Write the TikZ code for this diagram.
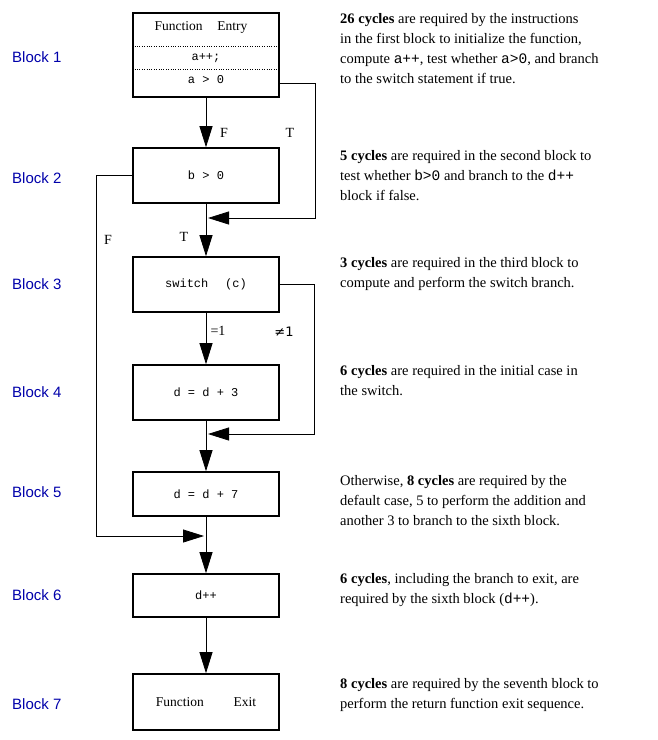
\documentclass[tikz,border=0pt]{standalone}
\definecolor{blockblue}{RGB}{0, 0, 170}
\usepackage{fontspec}
\setmainfont{Liberation Serif}
\setsansfont{Liberation Sans}
\setmonofont{Liberation Mono}
\newfontfamily\symfont{DejaVu Sans}
\usetikzlibrary{arrows.meta}
\newcommand{\snippet}[1]{{\ttfamily #1}}

\begin{document}
\begin{tikzpicture}[x=1pt, y=-1pt,
    codebox/.style={draw, line width=1.6pt, minimum width=146pt, inner sep=0pt, font=\ttfamily\fontsize{12}{14}\selectfont},
    flow/.style={-{Triangle[length=21pt, width=13pt]}, line width=0.8pt},
    blocklabel/.style={anchor=west, inner sep=0pt, text=blockblue, font=\sffamily\fontsize{15}{17}\selectfont},
    edgelabel/.style={inner sep=0pt, font=\fontsize{14}{16}\selectfont},
    note/.style={anchor=north west, align=left, inner sep=0pt, font=\fontsize{14.5}{20}\selectfont}]
                    \useasboundingbox (0,0) rectangle (658,740);

                    % Boxes of the flow
                    \node[codebox, minimum height=84pt] (entry) at (206,55) {};
                    \node[codebox, minimum height=55pt] (bgt) at (206,175.5) {b > 0};
                    \node[codebox, minimum height=55pt] (sw) at (206,284.5) {switch\hspace{1.4em}(c)};
                    \node[codebox, minimum height=55pt] (dthree) at (206,392.5) {d = d + 3};
                    \node[codebox, minimum height=44pt] (dseven) at (206,494) {d = d + 7};
                    \node[codebox, minimum height=43pt] (dinc) at (206,595.5) {d++};
                    \node[codebox, minimum height=56pt, font=\rmfamily\fontsize{13.5}{16}\selectfont] (exit) at (206,702) {Function\hspace{2.2em}Exit};

                    % Inside of the entry block
                    \node[font=\fontsize{13.5}{16}\selectfont] (entrytitle) at (201,27) {Function\hspace{1.1em}Entry};
                    \draw[dotted] (entry.west |- 0,46) -- (entry.east |- 0,46);
                    \draw[dotted] (entry.west |- 0,69) -- (entry.east |- 0,69);
                    \node[font=\ttfamily\fontsize{12}{14}\selectfont] (entryinc) at (206,58) {a++;};
                    \node[font=\ttfamily\fontsize{12}{14}\selectfont] (entrytest) at (206,80) {a > 0};

                    % Join points on the main line
                    \coordinate (tjoin) at (208,218);
                    \coordinate (njoin) at (208,434);
                    \coordinate (fjoin) at (204,536);

                    % Arrows down
                    \draw[flow] (entry.south) -- (bgt.north);
                    \draw[flow] (bgt.south) -- (sw.north);
                    \draw[flow] (sw.south) -- (dthree.north);
                    \draw[flow] (dthree.south) -- (dseven.north);
                    \draw[flow] (dseven.south) -- (dinc.north);
                    \draw[flow] (dinc.south) -- (exit.north);

                    % Branches
                    \draw[flow] ([yshift=-28pt]entry.east) -- ++(36,0) |- (tjoin);
                    \draw[flow] (bgt.west) -- ++(-36,0) |- (fjoin);
                    \draw[flow] (sw.east) -- ++(35,0) |- (njoin);

                    % Branch labels
                    \node[edgelabel] (fone) at (224,133) {F};
                    \node[edgelabel] (tone) at (290,133) {T};
                    \node[edgelabel] (ftwo) at (108,240) {F};
                    \node[edgelabel] (ttwo) at (184,237) {T};
                    \node[edgelabel] (caseone) at (218,331) {=1};
                    \node[edgelabel, font=\symfont\fontsize{13}{16}\selectfont] (caseother) at (284,332) {≠1};

                    % Block labels
                    \foreach \n/\y in {1/57, 2/178, 3/284, 4/392, 5/492, 6/595, 7/704}
                        \node[blocklabel] (label\n) at (12,\y) {Block \n};

                    % Cycle notes
                    \node[note] (noteone) at (340,13) {\textbf{26 cycles} are required by the instructions\\ in the first block to initialize the function,\\ compute \snippet{a++}, test whether \snippet{a>0}, and branch\\ to the switch statement if true.};
                    \node[note] (notetwo) at (340,150) {\textbf{5 cycles} are required in the second block to\\ test whether \snippet{b>0} and branch to the \snippet{d++}\\ block if false.};
                    \node[note] (notethree) at (340,257) {\textbf{3 cycles} are required in the third block to\\ compute and perform the switch branch.};
                    \node[note] (notefour) at (340,365) {\textbf{6 cycles} are required in the initial case in\\ the switch.};
                    \node[note] (notefive) at (340,475) {Otherwise, \textbf{8 cycles} are required by the\\ default case, 5 to perform the addition and\\ another 3 to branch to the sixth block.};
                    \node[note] (notesix) at (340,573) {\textbf{6 cycles}, including the branch to exit, are\\ required by the sixth block (\snippet{d++}).};
                    \node[note] (noteseven) at (340,678) {\textbf{8 cycles} are required by the seventh block to\\ perform the return function exit sequence.};
                \end{tikzpicture}
\end{document}
